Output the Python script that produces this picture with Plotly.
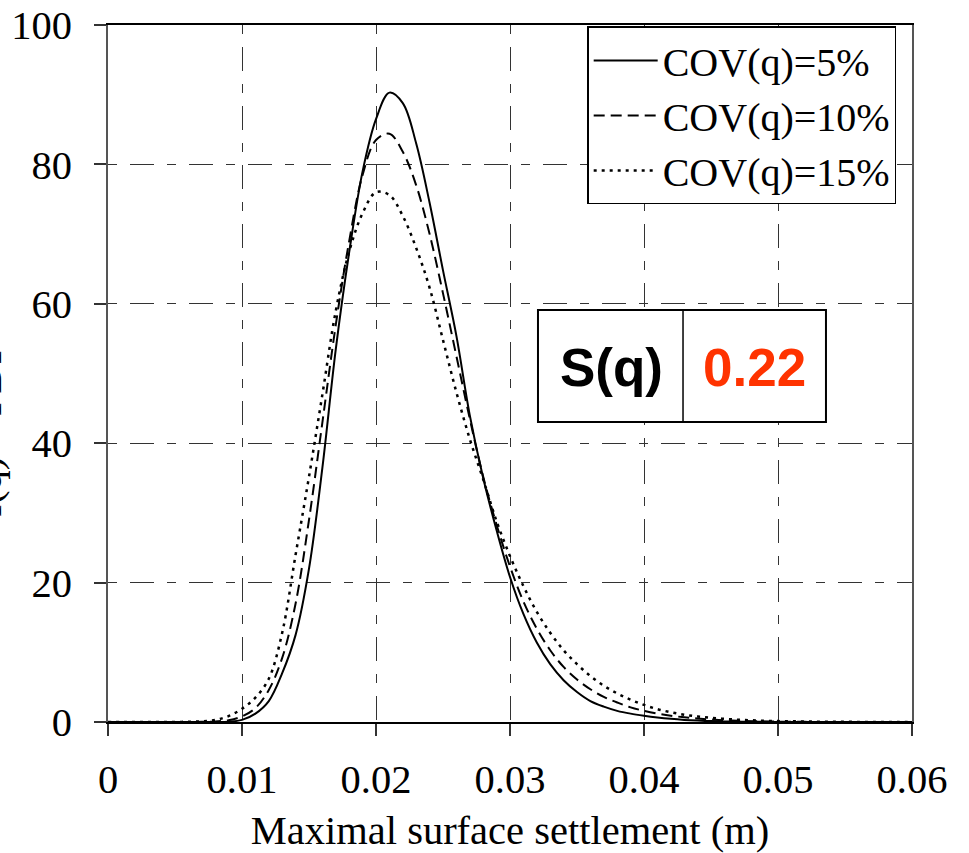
import plotly.graph_objects as go

settlement = [round(i * 0.001, 3) for i in range(61)]

pdf_cov5 = [0, 0, 0, 0, 0, 0, 0, 0, 0, 0.05,
            0.3, 1.2, 3.0, 7.0, 12.5, 22.0, 36.5, 53.5, 67.4, 79.0,
            86.5, 90.3, 88.8, 83.0, 74.5, 64.8, 55.4, 44.0, 35.0, 27.5,
            20.8, 15.5, 11.4, 8.3, 6.0, 4.3, 3.0, 2.2, 1.6, 1.2,
            0.9, 0.65, 0.45, 0.3, 0.2, 0.13, 0.08, 0.05, 0.03, 0.02,
            0.01, 0, 0, 0, 0, 0, 0, 0, 0, 0, 0]

pdf_cov10 = [0, 0, 0, 0, 0, 0, 0, 0.02, 0.08, 0.25,
             0.8, 2.0, 4.6, 9.2, 17.0, 29.0, 43.0, 57.0, 69.0, 78.5,
             83.5, 84.4, 81.8, 77.0, 70.0, 61.5, 52.5, 43.5, 35.2, 28.3,
             22.3, 17.3, 13.4, 10.3, 7.9, 6.1, 4.7, 3.6, 2.8, 2.1,
             1.6, 1.2, 0.9, 0.68, 0.5, 0.36, 0.26, 0.18, 0.12, 0.08,
             0.05, 0.03, 0.02, 0.01, 0, 0, 0, 0, 0, 0, 0]

pdf_cov15 = [0, 0, 0, 0, 0, 0.01, 0.03, 0.1, 0.3, 0.85,
             1.9, 3.5, 6.2, 12.8, 24.0, 35.2, 47.0, 59.0, 67.5, 73.0,
             76.0, 75.6, 72.6, 68.0, 62.3, 54.8, 47.3, 40.6, 34.8, 28.8,
             23.8, 19.5, 15.8, 12.8, 10.3, 8.3, 6.6, 5.2, 4.1, 3.2,
             2.45, 1.85, 1.4, 1.05, 0.8, 0.6, 0.45, 0.33, 0.25, 0.18,
             0.13, 0.1, 0.07, 0.05, 0.035, 0.025, 0.015, 0.01, 0, 0, 0]

series_names = ["COV(q)=5%", "COV(q)=10%", "COV(q)=15%"]
series_dash = ["solid", "11px,6px", "3px,5px"]
series_width = [2, 2, 2.5]

x_ticks = [0, 0.01, 0.02, 0.03, 0.04, 0.05, 0.06]
x_ticktext = ["0", "0.01", "0.02", "0.03", "0.04", "0.05", "0.06"]
y_ticks = [0, 20, 40, 60, 80, 100]

serif = "Liberation Serif, Times New Roman, serif"
FS = 40.5

fig = go.Figure()
for name, ys, dash, w in zip(series_names, [pdf_cov5, pdf_cov10, pdf_cov15], series_dash, series_width):
    fig.add_trace(go.Scatter(
        x=settlement, y=ys, mode="lines", name=name,
        line=dict(color="black", width=w, dash=dash, shape="spline", smoothing=1.0),
    ))

grid = dict(showgrid=True, gridcolor="#333333", gridwidth=1, griddash="9px,13px,24px,13px")

fig.update_layout(
    width=969, height=853,
    margin=dict(l=108, r=57, t=25, b=131),
    paper_bgcolor="white", plot_bgcolor="white",
    font=dict(family=serif, size=FS, color="black"),
    showlegend=True,
    legend=dict(
        x=0.596, y=0.998, xanchor="left", yanchor="top",
        bgcolor="white", bordercolor="black", borderwidth=1.5,
        font=dict(family=serif, size=40, color="black"),
        itemwidth=64, tracegroupgap=0,
    ),
    xaxis=dict(
        range=[0, 0.06], tickvals=x_ticks, ticktext=x_ticktext,
        ticks="outside", ticklen=12, tickwidth=1.5, tickcolor="#333333",
        ticklabelstandoff=8, automargin=False,
        showline=True, linecolor="black", linewidth=2, mirror=True,
        zeroline=False,
        title=dict(text="Maximal surface settlement (m)", font=dict(family=serif, size=FS), standoff=18),
        tickfont=dict(family=serif, size=FS),
        **grid,
    ),
    yaxis=dict(
        range=[0, 100], tickvals=y_ticks,
        ticks="outside", ticklen=12, tickwidth=1.5, tickcolor="#333333",
        ticklabelstandoff=14, automargin=False,
        showline=True, linecolor="#555555", linewidth=2, mirror=True,
        zeroline=False,
        tickfont=dict(family=serif, size=FS),
        **grid,
    ),
)

# partially visible y-axis title (cut off at the page edge, as in the original)
fig.add_annotation(
    text="f(q) \u2013 PDF", textangle=-90, xref="paper", yref="paper",
    x=-0.1194, y=0.548, xanchor="right", yanchor="top", showarrow=False,
    font=dict(family=serif, size=FS, color="black"),
)

# S(q) table box
fig.add_shape(type="rect", xref="paper", yref="paper",
              x0=0.5348, x1=0.893, y0=0.4304, y1=0.5911,
              line=dict(color="black", width=2), fillcolor="white", layer="above")
fig.add_shape(type="line", xref="paper", yref="paper",
              x0=0.7152, x1=0.7152, y0=0.4304, y1=0.5911,
              line=dict(color="black", width=1.5), layer="above")
sans = "Liberation Sans, Arial, sans-serif"
fig.add_annotation(text="<b>S(q)</b>", xref="paper", yref="paper",
                   x=0.626, y=0.508, xanchor="center", yanchor="middle", showarrow=False,
                   font=dict(family=sans, size=53, color="black"))
fig.add_annotation(text="<b>0.22</b>", xref="paper", yref="paper",
                   x=0.804, y=0.508, xanchor="center", yanchor="middle", showarrow=False,
                   font=dict(family=sans, size=53, color="#FF3300"))

fig.write_html("out.html")
